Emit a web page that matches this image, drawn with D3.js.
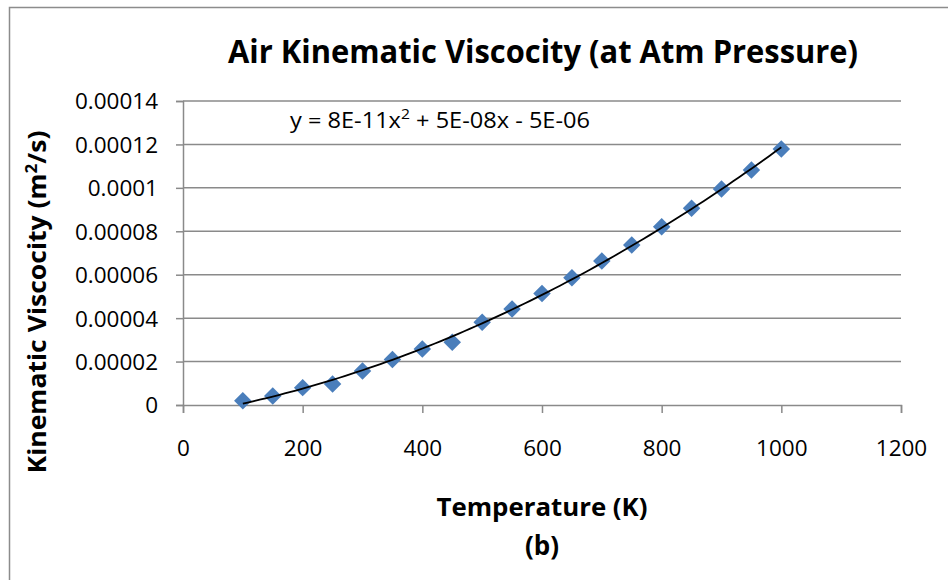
<!DOCTYPE html>
<html lang="en">
    <head>
        <meta charset="utf-8">
        <script src="https://cdnjs.cloudflare.com/ajax/libs/d3/7.8.5/d3.min.js"></script>
        <style type="text/css">
            body {
                margin: 0;
                background: #ffffff;
            }
            text {
                font-family: "Open Sans", sans-serif;
                fill: #000000;
            }
        </style>
    </head>
    <body>
        <div id="chart"></div>

        <script type="text/javascript">
            // temperature (K) and kinematic viscosity (m2/s)
            var temps = [100, 150, 200, 250, 300, 350, 400, 450, 500, 550,
                         600, 650, 700, 750, 800, 850, 900, 950, 1000];
            var visc = [2.0e-6, 4.1e-6, 8.0e-6, 9.7e-6, 15.7e-6, 21.0e-6, 25.8e-6, 28.9e-6, 38.1e-6, 44.2e-6,
                        51.4e-6, 58.6e-6, 66.3e-6, 73.7e-6, 82.1e-6, 90.6e-6, 99.5e-6, 108.2e-6, 117.9e-6];
            var xTicks = [0, 200, 400, 600, 800, 1000, 1200];
            var yTicks = [0, 0.00002, 0.00004, 0.00006, 0.00008, 0.0001, 0.00012, 0.00014];
            var yTickLabels = ["0", "0.00002", "0.00004", "0.00006", "0.00008", "0.0001", "0.00012", "0.00014"];

            var w = 948;
            var h = 580;

            var svg = d3.select("#chart")
            .append("svg")
            .attr("width", w)
            .attr("height", h);

            // chart frame
            svg.append("rect")
            .attr("x", 9.5)
            .attr("y", 7.5)
            .attr("width", 960)
            .attr("height", 600)
            .style("fill", "white")
            .attr("stroke", "#8c8c8c")
            .attr("stroke-width", 1.5);

            var x = d3.scaleLinear().domain([0, 1200]).range([183, 901]);
            var y = d3.scaleLinear().domain([0, 0.00014]).range([405, 101]);

            // gridlines
            svg.append("g")
            .selectAll("line")
            .data(yTicks.slice(1))
            .enter()
            .append("line")
            .attr("x1", x(0))
            .attr("x2", x(1200))
            .attr("y1", function(d) { return y(d); })
            .attr("y2", function(d) { return y(d); })
            .attr("stroke", "#8a8a8a")
            .attr("stroke-width", 1.5);

            // y axis
            var yAxis = svg.append("g")
            .attr("transform", "translate(" + x(0) + ",0)")
            .call(d3.axisLeft(y).tickValues(yTicks).tickSize(7).tickPadding(18)
                .tickFormat(function(d, i) { return yTickLabels[i]; }));

            // x axis
            var xAxis = svg.append("g")
            .attr("transform", "translate(0," + y(0) + ")")
            .call(d3.axisBottom(x).tickValues(xTicks).tickSize(8).tickPadding(27)
                .tickFormat(d3.format("d")));

            [yAxis, xAxis].forEach(function(a) {
                a.select(".domain").attr("stroke", "#8a8a8a").attr("stroke-width", 1.5);
                a.selectAll(".tick line").attr("stroke", "#8a8a8a").attr("stroke-width", 1.5);
                a.selectAll(".tick text")
                .attr("font-family", "Open Sans, sans-serif")
                .attr("font-size", 22.5)
                .attr("fill", "#000");
            });
            yAxis.selectAll(".tick text").attr("dy", "0.35em");

            // quadratic least-squares trendline
            var n = temps.length;
            var s = [0, 0, 0, 0, 0], t = [0, 0, 0];
            temps.forEach(function(tv, i) {
                for (var k = 0; k < 5; k++) s[k] += Math.pow(tv, k);
                for (var k = 0; k < 3; k++) t[k] += Math.pow(tv, k) * visc[i];
            });
            var M = [[s[0], s[1], s[2], t[0]],
                     [s[1], s[2], s[3], t[1]],
                     [s[2], s[3], s[4], t[2]]];
            for (var c = 0; c < 3; c++) {
                for (var r = c + 1; r < 3; r++) {
                    var f = M[r][c] / M[c][c];
                    for (var k = c; k < 4; k++) M[r][k] -= f * M[c][k];
                }
            }
            var coef = [0, 0, 0];
            for (var r = 2; r >= 0; r--) {
                var v = M[r][3];
                for (var k = r + 1; k < 3; k++) v -= M[r][k] * coef[k];
                coef[r] = v / M[r][r];
            }
            var fitX = d3.range(temps[0], temps[n - 1] + 1, 10);
            var line = d3.line()
            .x(function(d) { return x(d); })
            .y(function(d) { return y(coef[0] + coef[1] * d + coef[2] * d * d); });

            // markers
            svg.append("g")
            .selectAll("path")
            .data(temps)
            .enter()
            .append("path")
            .attr("d", d3.symbol().type(d3.symbolDiamond2).size(195))
            .attr("transform", function(d, i) { return "translate(" + x(d) + "," + y(visc[i]) + ")"; })
            .style("fill", "#4a7ebb");

            svg.append("path")
            .datum(fitX)
            .attr("d", line)
            .style("fill", "none")
            .attr("stroke", "#000")
            .attr("stroke-width", 1.8);

            // equation label
            var eq = svg.append("text")
            .attr("x", 290)
            .attr("y", 128)
            .attr("font-size", 21)
            .attr("textLength", 300)
            .attr("lengthAdjust", "spacingAndGlyphs");
            eq.append("tspan").text("y = 8E-11x");
            eq.append("tspan").attr("dy", -9).attr("font-size", 14).text("2");
            eq.append("tspan").attr("dy", 9).text(" + 5E-08x - 5E-06");

            // title
            svg.append("text")
            .attr("x", 543)
            .attr("y", 63)
            .attr("text-anchor", "middle")
            .attr("font-size", 32)
            .attr("font-weight", "bold")
            .attr("textLength", 630)
            .attr("lengthAdjust", "spacingAndGlyphs")
            .text("Air Kinematic Viscocity (at Atm Pressure)");

            // y axis title
            var yt = svg.append("text")
            .attr("transform", "translate(46,302) rotate(-90)")
            .attr("text-anchor", "middle")
            .attr("font-size", 25)
            .attr("font-weight", "bold")
            .attr("textLength", 343)
            .attr("lengthAdjust", "spacingAndGlyphs");
            yt.append("tspan").text("Kinematic Viscocity (m");
            yt.append("tspan").attr("dy", -9).attr("font-size", 16).text("2");
            yt.append("tspan").attr("dy", 9).text("/s)");

            // x axis title
            svg.append("text")
            .attr("x", 542)
            .attr("y", 516)
            .attr("text-anchor", "middle")
            .attr("font-size", 25)
            .attr("font-weight", "bold")
            .attr("textLength", 211)
            .attr("lengthAdjust", "spacingAndGlyphs")
            .text("Temperature (K)");

            svg.append("text")
            .attr("x", 542)
            .attr("y", 555)
            .attr("text-anchor", "middle")
            .attr("font-size", 26)
            .attr("font-weight", "bold")
            .text("(b)");
        </script>
    </body>
</html>
